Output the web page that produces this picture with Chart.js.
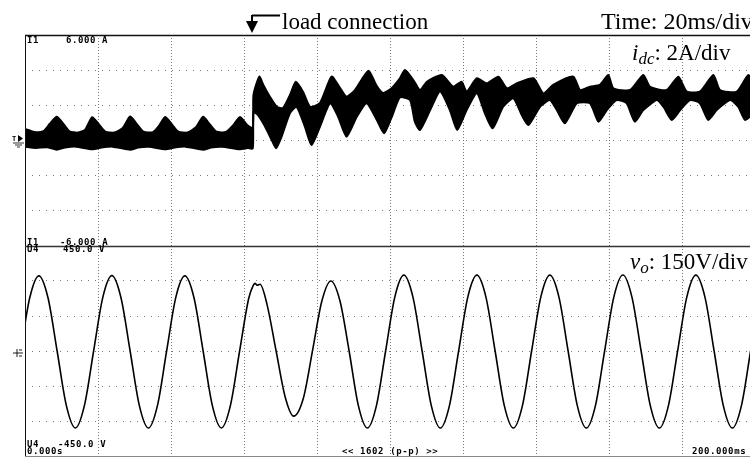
<!DOCTYPE html>
<html>
<head>
<meta charset="utf-8">
<script src="https://cdn.jsdelivr.net/npm/chart.js@4.4.1/dist/chart.umd.min.js"></script>
<style>
html,body{margin:0;padding:0;background:#fff;overflow:hidden;width:750px;height:457px;}
#wrap{position:relative;width:750px;height:457px;overflow:hidden;}
canvas{position:absolute;left:0;}
#cTop{top:35px;}
#cBot{top:246px;}
svg{position:absolute;left:0;top:0;}
</style>
</head>
<body>
<div id="wrap">
<canvas id="cTop" width="760" height="211"></canvas>
<canvas id="cBot" width="760" height="210"></canvas>
<svg width="750" height="457" xmlns="http://www.w3.org/2000/svg">
  <!-- frame -->
  <line x1="25" y1="35.5" x2="750" y2="35.5" stroke="#111" stroke-width="1.5"/>
  <line x1="25.5" y1="35" x2="25.5" y2="457" stroke="#111" stroke-width="1"/>
  <line x1="25" y1="246.5" x2="750" y2="246.5" stroke="#333" stroke-width="1.3"/>
  <line x1="25" y1="456.5" x2="750" y2="456.5" stroke="#888" stroke-width="1"/>
  <!-- annotation arrow -->
  <path d="M280 15.5 H252" stroke="#000" stroke-width="2" fill="none"/>
  <path d="M252 15 V24" stroke="#000" stroke-width="2" fill="none"/>
  <path d="M246 21 L258 21 L252 33 Z" fill="#000"/>
  <g font-family="'Liberation Serif','Times New Roman',serif" font-size="23" fill="#000">
    <text x="282" y="28.5">load connection</text>
    <text x="601" y="28.5" font-size="24">Time: 20ms/div</text>
    <text x="632" y="60"><tspan font-style="italic">i</tspan><tspan font-style="italic" font-size="17" dy="4">dc</tspan><tspan dy="-4">: 2A/div</tspan></text>
    <text x="630" y="269"><tspan font-style="italic">v</tspan><tspan font-style="italic" font-size="17" dy="4">o</tspan><tspan dy="-4">: 150V/div</tspan></text>
  </g>
  <g font-family="'DejaVu Sans Mono',monospace" font-weight="bold" font-size="9" letter-spacing="0.6" fill="#000">
    <text x="27" y="43">I1</text>
    <text x="66" y="43">6.000 A</text>
    <text x="27" y="245">I1</text>
    <text x="60" y="245">-6.000 A</text>
    <text x="27" y="251.5">U4</text>
    <text x="63" y="251.5">450.0 V</text>
    <text x="27" y="447">U4</text>
    <text x="58" y="447">-450.0 V</text>
    <text x="27" y="454">0.000s</text>
    <text x="342" y="454">&lt;&lt; 1602 (p-p) &gt;&gt;</text>
    <text x="692" y="454">200.000ms</text>
    <text x="12" y="141" font-size="7" letter-spacing="0">T</text>
  </g>
  <!-- trigger / ground markers -->
  <path d="M18 135 L23 138.5 L18 142 Z" fill="#000"/>
  <path d="M13 143 H24 M15 145 H22 M17 147 H20" stroke="#000" stroke-width="0.8"/>
  <path d="M13 353 H23 M17 349 V357 M19 350 H22 M19 356 H22" stroke="#000" stroke-width="0.9" fill="none"/>
</svg>
</div>
<script>
// ---- i_dc (A): upper and lower envelope of the switching band ----
const idcUpperT = [0,1.5,3.0,5.2,6.8,8.7,10.5,12.2,14.5,16.5,18.4,20.3,22.0,24.5,26.8,28.8,30.7,32.5,35.0,36.6,38.4,40.3,42.0,44.5,46.8,48.8,50.7,52.5,55.0,57.0,58.9,60.8,62.4,
  62.6,64.2,65.3,67.1,69.0,70.7,72.6,74.2,76.2,78.1,80.8,84.0,86.3,88.1,90.4,94.1,96.2,98.1,100.5,102.7,104.1,106.4,108.2,110.1,114.2,117.3,119.6,121.0,123.8,126.5,129.7,132.0,134.7,139.3,142.0,144.7,150.2,152.1,154.8,157.5,159.8,161.2,165.8,169.4,171.2,175.8,179.0,181.3,184.9,188.6,190.4,195.0,198.2,200];
const idcUpperA = [0.65,0.55,0.47,0.55,0.95,1.35,0.95,0.52,0.45,0.62,1.32,0.90,0.50,0.45,0.72,1.36,0.92,0.50,0.47,0.80,1.33,0.90,0.50,0.45,0.75,1.35,0.90,0.50,0.48,0.85,1.34,0.90,0.70,
  2.59,3.63,3.16,2.49,1.92,1.85,2.59,3.34,2.76,1.92,2.13,3.63,2.99,2.49,2.87,3.97,3.16,2.70,2.99,3.54,4.01,3.44,2.87,3.34,3.73,3.06,3.34,2.78,3.54,3.25,3.63,2.97,3.25,3.54,2.68,3.16,3.63,2.87,3.06,3.16,3.73,2.97,2.87,3.73,3.06,2.87,3.63,2.78,2.78,3.73,2.87,2.78,3.73,3.16];
const idcLowerT = [0,3,6,8.7,11,14,18.4,21,24,28.8,31,34,38.4,41,44,48.8,51,54,58.9,61,62.4,
  62.6,63.8,65.8,67.6,68.8,70.3,72.6,74.4,76.7,78.5,80.8,83.6,85.8,88.1,90.9,93.6,96.4,98.4,100.5,102.7,105.5,106.8,108.2,111.0,113.7,116.4,118.4,121.0,123.8,126.0,128.1,131.0,133.8,136.1,137.9,141.1,143.8,145.7,147.9,151.2,154.8,157.1,159.4,162.1,164.8,167.1,169.4,173.1,174.9,177.2,179.5,182.2,184.9,187.2,189.5,193.2,195.4,197.3,200];
const idcLowerA = [-0.35,-0.42,-0.38,-0.52,-0.40,-0.35,-0.50,-0.40,-0.35,-0.52,-0.40,-0.36,-0.50,-0.40,-0.35,-0.52,-0.40,-0.36,-0.50,-0.43,-0.45,
  1.62,1.45,0.78,0.03,-0.44,0.22,1.56,1.92,0.78,-0.26,0.78,2.12,1.35,0.22,1.35,2.12,1.17,0.41,1.35,2.45,2.30,1.07,0.60,1.73,2.78,1.73,0.60,1.73,2.68,1.55,0.69,1.92,2.40,1.45,0.88,1.92,2.30,1.73,0.98,2.12,2.12,1.07,1.73,2.30,2.12,1.07,1.73,2.30,1.92,1.17,1.73,2.30,2.12,1.17,1.73,2.30,1.92,1.17,1.62];

// ---- v_o (V) ----
const voT = [-1.2,1.3,3.8,6.3,8.8,11.3,13.8,16.3,18.8,21.3,23.8,26.3,28.8,31.3,33.8,36.3,38.8,41.3,43.8,46.3,48.8,51.3,53.8,56.3,58.8,
  61.3,62.5,63.0,63.6,64.4,66.3,
  68.8,71.3,73.6,76.3,78.8,81.3,83.8,86.3,88.8,91.3,93.8,96.3,98.8,101.3,103.8,106.3,108.8,
  111.3,113.8,116.3,118.8,121.3,123.8,126.3,128.8,131.3,133.8,136.3,138.8,141.3,143.8,146.3,148.8,
  151.3,153.8,156.3,158.8,161.3,163.8,166.3,168.8,171.3,173.8,176.3,178.8,181.3,183.8,186.3,188.8,
  191.3,193.8,196.3,198.8,201.3];
const voV = [0,228,322,228,0,-232,-330,-232,0,229,323,228,0,-232,-330,-233,0,229,322,228,0,-232,-330,-232,0,
  226,280,290,282,286,200,
  0,-198,-279,-200,4,212,300,214,0,-232,-330,-233,0,230,325,230,0,
  -233,-330,-233,0,230,325,230,0,-233,-330,-233,0,230,325,230,0,
  -233,-330,-233,0,230,326,230,0,-233,-330,-233,0,230,325,230,0,
  -233,-330,-233,0,230];

// ---- axis ticks ----
const timeTicksMs = [0,20,40,60,80,100,120,140,160,180,200];
const idcTicksA = [-6,-4,-2,0,2,4,6];
const voTicksV = [-450,-300,-150,0,150,300,450];

const pts = (t, v) => t.map((x, i) => ({x: x, y: v[i]}));
const GRID = '#7a7a7a';

function makeScope(id, datasets, yTicks) {
  const ymin = yTicks[0], ymax = yTicks[yTicks.length - 1];
  return new Chart(document.getElementById(id), {
    type: 'line',
    data: { datasets: datasets },
    options: {
      responsive: false, animation: false, devicePixelRatio: 1,
      layout: { padding: { left: 25, right: 5, top: 0, bottom: 0 } },
      plugins: { legend: { display: false }, tooltip: { enabled: false } },
      elements: { point: { radius: 0 } },
      scales: {
        x: {
          type: 'linear', min: timeTicksMs[0], max: timeTicksMs[timeTicksMs.length - 1],
          afterBuildTicks: s => { s.ticks = timeTicksMs.map(v => ({value: v})); },
          ticks: { display: false },
          grid: { drawTicks: false, lineWidth: 1,
            color: c => (c.index === 0 || c.index === timeTicksMs.length - 1) ? 'rgba(0,0,0,0)' : GRID },
          border: { display: false, dash: [1, 2] }
        },
        y: {
          type: 'linear', min: ymin, max: ymax,
          afterBuildTicks: s => { s.ticks = yTicks.map(v => ({value: v})); },
          ticks: { display: false },
          grid: { drawTicks: false, lineWidth: 1,
            color: c => (c.index === 0 || c.index === yTicks.length - 1) ? 'rgba(0,0,0,0)' : GRID },
          border: { display: false, dash: [1, 6] }
        }
      }
    }
  });
}

makeScope('cTop', [
  { data: pts(idcUpperT, idcUpperA), borderColor: '#000', borderWidth: 2, backgroundColor: '#000', fill: '+1', tension: 0.2 },
  { data: pts(idcLowerT, idcLowerA), borderColor: '#000', borderWidth: 2, fill: false, tension: 0.2 }
], idcTicksA);

makeScope('cBot', [
  { data: pts(voT, voV), borderColor: '#000', borderWidth: 1.6, fill: false, cubicInterpolationMode: 'monotone' }
], voTicksV);
</script>
</body>
</html>
